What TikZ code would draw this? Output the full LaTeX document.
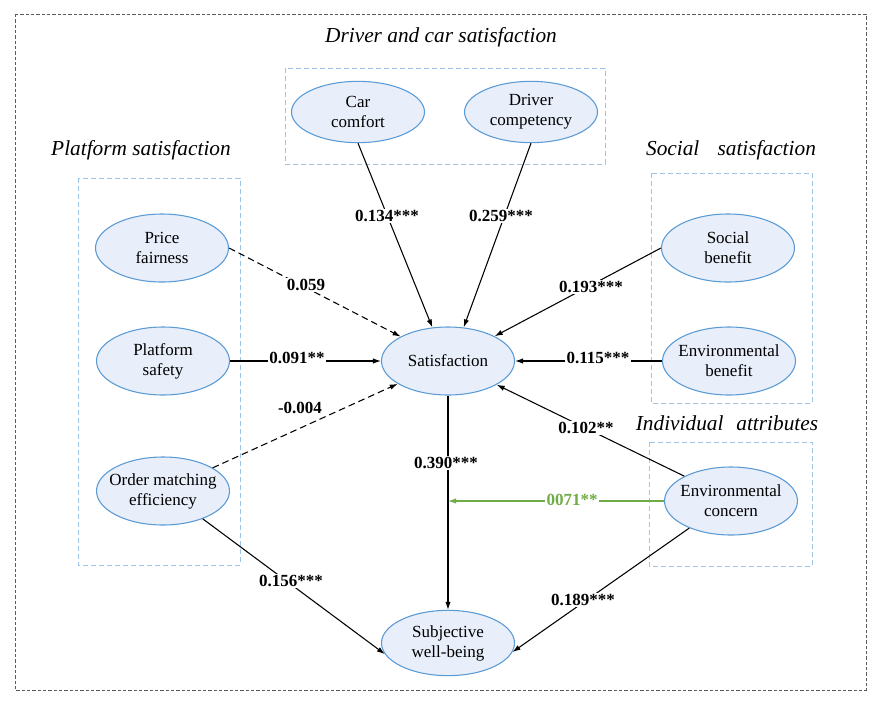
\documentclass[tikz,border=0pt]{standalone}
\usepackage{fontspec}
\setmainfont{Liberation Serif}
\usetikzlibrary{shapes.geometric,arrows.meta}
\definecolor{ellfill}{RGB}{232,238,250}
\definecolor{elldraw}{RGB}{91,155,213}
\definecolor{boxcol}{RGB}{157,195,230}
\definecolor{framecol}{RGB}{90,90,90}
\definecolor{greencol}{RGB}{112,173,71}
\tikzset{
  ell/.style={ellipse, draw=elldraw, fill=ellfill, line width=0.8pt,
    minimum width=99.75pt, minimum height=51pt, inner xsep=-15pt, inner ysep=0pt,
    align=center, font=\fontsize{12.75pt}{15pt}\selectfont},
  grp/.style={draw=boxcol, dashed, dash pattern=on 3.5pt off 2.5pt, line width=0.7pt},
  ttl/.style={font=\fontsize{16pt}{19pt}\selectfont\itshape, inner sep=0pt},
  lab/.style={fill=white, inner sep=1pt, font=\fontsize{12.75pt}{15pt}\selectfont\bfseries},
  arr/.style={line width=0.8pt, -{Latex[length=6pt,width=4pt]}},
  darr/.style={arr, dashed, dash pattern=on 5pt off 3pt},
}
\begin{document}
\begin{tikzpicture}[x=0.75pt,y=-0.75pt]
\useasboundingbox (0,0) rectangle (883,704);
% outer frame
\draw[framecol, dashed, dash pattern=on 2.5pt off 1.5pt, line width=0.6pt] (15,14) rectangle (866,690);
% group boxes
\draw[grp] (285,68) rectangle (605,164);
\draw[grp] (78,178) rectangle (240,565);
\draw[grp] (651,173) rectangle (812,403);
\draw[grp] (649,442) rectangle (812,566);
% titles
\node[ttl] (t1) at (441,37) {Driver and car satisfaction};
\node[ttl] (t2) at (141,150) {Platform satisfaction};
\node[ttl] (t3) at (731,150) {Social\hspace{0.6em} satisfaction};
\node[ttl] (t4) at (727,423) {Individual\hspace{0.35em} attributes};
% ellipses
\node[ell, minimum height=46pt] (cc) at (358,112) {Car\\comfort};
\node[ell, minimum height=46pt] (dc) at (531,112) {Driver\\competency};
\node[ell] (pf) at (162,248) {Price\\fairness};
\node[ell] (ps) at (163,361) {Platform\\safety};
\node[ell] (om) at (163,491) {Order matching\\efficiency};
\node[ell] (sat) at (448,361) {Satisfaction};
\node[ell] (sb) at (728,248) {Social\\benefit};
\node[ell] (eb) at (729,361) {Environmental\\benefit};
\node[ell] (ec) at (731,501) {Environmental\\concern};
\node[ell, minimum height=49pt] (sw) at (448,643) {Subjective\\well-being};
% connectors
\draw[arr] (cc.south) -- (sat.115);
\draw[arr] (dc.south) -- (sat.65);
\draw[darr] (pf.east) -- (sat);
\draw[arr] (ps.east) -- (sat.west);
\draw[darr] (om.25) -- (sat);
\draw[arr] (sb.west) -- (sat);
\draw[arr] (eb.west) -- (sat.east);
\draw[arr] (ec.152) -- (sat);
\draw[arr] (sat.south) -- (sw.north);
\coordinate (mid) at (sat.south |- ec.west);
\draw[greencol, line width=0.8pt, -{Latex[length=6pt,width=4pt]}] (ec.west) -- (mid);
\draw[arr] (om.-35) -- (sw.190);
\draw[arr] (ec.213) -- (sw.-8);
% labels
\node[lab] (l1) at (387,216) {0.134***};
\node[lab] (l2) at (501,216) {0.259***};
\node[lab] (l3) at (306,285) {0.059};
\node[lab] (l4) at (297,358) {0.091**};
\node[lab] (l5) at (300,408) {-0.004};
\node[lab] (l6) at (591,287) {0.193***};
\node[lab] (l7) at (598,358) {0.115***};
\node[lab] (l8) at (586,428) {0.102**};
\node[lab] (l9) at (446,463) {0.390***};
\node[lab, text=greencol] (l10) at (572,500) {0071**};
\node[lab] (l11) at (291,581) {0.156***};
\node[lab] (l12) at (583,600) {0.189***};
\end{tikzpicture}
\end{document}
